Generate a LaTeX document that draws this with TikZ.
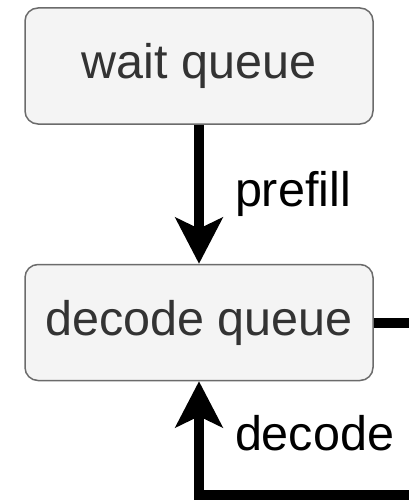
\documentclass[tikz,border=0pt]{standalone}
\usepackage{fontspec}
\setmainfont{Liberation Sans}
\usetikzlibrary{arrows.meta,positioning}
\definecolor{boxfill}{HTML}{F4F4F4}
\definecolor{boxline}{HTML}{6B6B6B}
\definecolor{boxtext}{HTML}{333333}

\begin{document}
\begin{tikzpicture}[
    x=1pt, y=-1pt,
    node distance=139pt, % gap between the two queues
    box/.style={rectangle, rounded corners=13pt, draw=boxline, fill=boxfill, line width=1.5pt, minimum width=348pt, minimum height=116pt, text=boxtext, font=\fontsize{48.5}{58}\selectfont},
    connector/.style={-{Stealth[length=46pt, width=47pt, inset=11pt]}, line width=10pt},
    tag/.style={font=\fontsize{48.5}{58}\selectfont, inner sep=0pt}
]
    \useasboundingbox (0,0) rectangle (409,500);

    % Nodes
    \node[box] (wait) at (199,66) {wait queue};
    \node[box, below=of wait] (decode) {decode queue};
    \coordinate (out) at (decode.east -| 409,0);
    \coordinate (back) at (409,495);

    % Connections
    \draw [connector] (wait) -- node[tag, right=31pt] {prefill} (decode);
    \draw [line width=10pt] (decode.east) -- (out);
    \draw [connector] (back) -| node[tag, pos=0.77, right=31pt] {decode} (decode);
\end{tikzpicture}
\end{document}
